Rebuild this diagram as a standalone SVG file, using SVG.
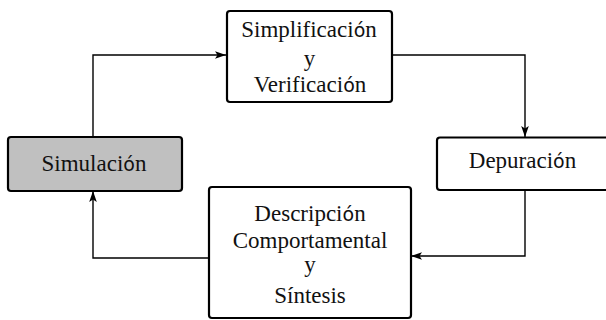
<svg xmlns="http://www.w3.org/2000/svg" width="606" height="320" viewBox="0 0 606 320">
<defs>
<marker id="arr" markerWidth="12" markerHeight="10" refX="11" refY="5" orient="auto" markerUnits="userSpaceOnUse">
<path d="M0,1.2 L11,5 L0,8.8 L2.5,5 Z" fill="#000"/>
</marker>
<style>
.box{fill:#fff;stroke:#000;stroke-width:2.2}
.grey{fill:#c0c0c0}
.c{fill:none;stroke:#000;stroke-width:1.4}
text{font-family:'Liberation Serif',serif;font-size:23px;fill:#111;text-anchor:middle}
.s{font-family:'DejaVu Sans',sans-serif;font-size:19px}
</style>
</defs>
<rect width="606" height="320" fill="#fff"/>
<g id="connectors">
<path class="c" d="M93,137 V55 H226" marker-end="url(#arr)"/>
<path class="c" d="M392,55 H525 V137" marker-end="url(#arr)"/>
<path class="c" d="M525,190 V256 H411" marker-end="url(#arr)"/>
<path class="c" d="M209,258 H93 V191" marker-end="url(#arr)"/>
</g>
<g id="simplificacion">
<rect class="box" x="227" y="11" width="165" height="91" rx="3"/>
<text x="309" y="37">Simplificaci<tspan class="s">ó</tspan>n</text>
<text x="309.5" y="66">y</text>
<text x="310" y="92">Verificaci<tspan class="s">ó</tspan>n</text>
</g>
<g id="depuracion">
<rect class="box" x="437" y="137.5" width="172" height="52.5" rx="3"/>
<text x="522.5" y="168">Depuraci<tspan class="s">ó</tspan>n</text>
</g>
<g id="descripcion">
<rect class="box" x="209" y="187" width="202" height="131" rx="3"/>
<text x="310" y="221">Descripci<tspan class="s">ó</tspan>n</text>
<text x="310" y="248">Comportamental</text>
<text x="310" y="272">y</text>
<text x="310" y="303">Síntesis</text>
</g>
<g id="simulacion">
<rect class="box grey" x="8" y="137" width="174" height="54" rx="3"/>
<text x="94" y="171">Simulaci<tspan class="s">ó</tspan>n</text>
</g>
</svg>
